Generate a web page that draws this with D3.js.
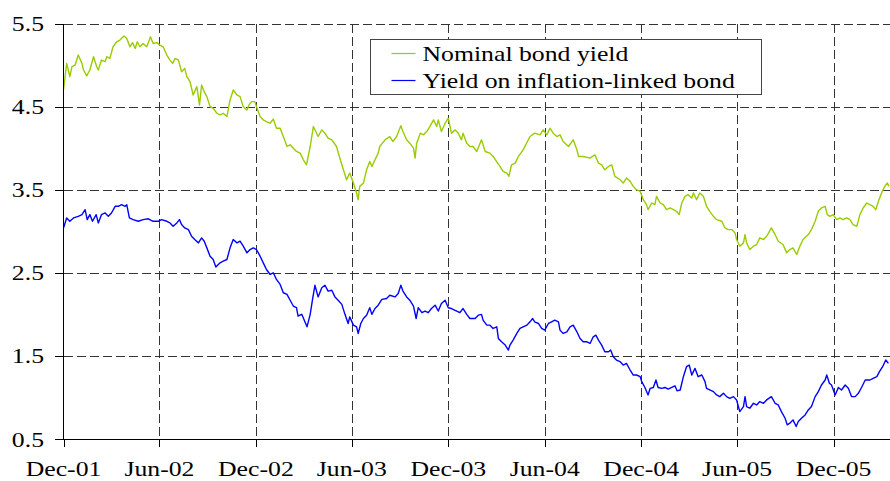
<!DOCTYPE html>
<html>
<head>
<meta charset="utf-8">
<script src="https://cdn.jsdelivr.net/npm/d3@7"></script>
<style>
  html, body { margin: 0; padding: 0; background: #fff; }
  svg { display: block; }
  text { font-family: "Liberation Serif", "Times New Roman", serif; fill: #000; }
</style>
</head>
<body>
<svg id="chart" width="890" height="481"></svg>
<script>
// ---- data (days since 1 Dec 2001, yield in %) ----
const seriesNames = ["Nominal bond yield", "Yield on inflation-linked bond"];
const yTicks = [0.5, 1.5, 2.5, 3.5, 4.5, 5.5];
const xTickLabels = ["Dec-01","Jun-02","Dec-02","Jun-03","Dec-03","Jun-04","Dec-04","Jun-05","Dec-05"];

const nominalDays = [0,6,12,16,22,28,35,38,44,50,57,63,66,72,79,82,88,94,101,107,115,120,126,131,136,140,145,151,158,165,170,177,183,189,196,202,207,212,218,224,230,234,240,246,253,258,262,267,272,278,284,291,297,303,310,316,322,329,335,341,348,352,357,363,366,373,379,385,392,398,404,411,417,424,430,436,442,449,455,461,468,474,483,490,496,502,509,518,521,531,537,543,550,556,559,562,569,572,575,581,585,591,597,600,610,619,625,632,640,644,651,657,664,667,670,677,683,689,695,702,708,711,717,724,730,736,743,749,755,758,765,771,777,784,793,800,809,815,828,834,841,845,850,857,863,872,885,894,904,910,917,923,929,936,942,948,958,967,974,977,986,999,1008,1015,1021,1027,1034,1040,1046,1056,1062,1068,1075,1081,1087,1094,1100,1106,1109,1116,1122,1125,1132,1138,1144,1151,1157,1163,1168,1173,1179,1185,1192,1195,1201,1207,1214,1220,1226,1233,1239,1249,1255,1261,1268,1274,1277,1283,1290,1293,1296,1302,1309,1315,1321,1328,1334,1343,1350,1356,1365,1372,1378,1384,1391,1397,1403,1413,1419,1426,1432,1438,1445,1449,1454,1460,1467,1473,1479,1486,1492,1498,1505,1511,1517,1524,1530,1536,1541,1546,1552,1558,1563,1566];
const nominalYield = [4.70,5.02,4.86,4.98,5.00,5.12,5.02,4.94,4.87,4.94,5.10,4.98,4.94,5.06,5.04,5.10,5.08,5.22,5.28,5.30,5.35,5.32,5.22,5.27,5.20,5.28,5.22,5.26,5.22,5.34,5.26,5.27,5.24,5.22,5.12,5.06,5.02,5.08,5.06,4.92,4.96,4.86,4.80,4.64,4.74,4.52,4.76,4.68,4.62,4.50,4.48,4.42,4.40,4.42,4.38,4.58,4.70,4.64,4.62,4.50,4.46,4.52,4.56,4.56,4.50,4.38,4.34,4.32,4.30,4.35,4.24,4.24,4.14,4.02,4.04,4.00,3.96,3.94,3.86,3.80,4.02,4.26,4.14,4.22,4.18,4.12,4.10,4.02,3.95,3.74,3.62,3.70,3.58,3.46,3.38,3.54,3.58,3.66,3.74,3.84,3.78,3.86,3.94,4.02,4.10,4.14,4.08,4.14,4.27,4.20,4.10,4.06,4.00,3.88,4.06,4.18,4.16,4.20,4.26,4.34,4.26,4.34,4.20,4.30,4.36,4.18,4.22,4.18,4.10,4.18,4.06,4.02,4.02,3.96,4.10,3.96,3.94,3.90,3.78,3.72,3.70,3.66,3.80,3.82,3.90,3.98,4.14,4.18,4.16,4.22,4.16,4.24,4.18,4.14,4.16,4.08,4.02,4.10,3.98,3.90,3.90,3.88,3.92,3.82,3.80,3.74,3.78,3.80,3.66,3.62,3.58,3.64,3.60,3.54,3.50,3.48,3.38,3.32,3.26,3.34,3.32,3.42,3.34,3.32,3.26,3.28,3.26,3.24,3.20,3.34,3.42,3.44,3.40,3.46,3.38,3.46,3.42,3.30,3.24,3.18,3.14,3.12,3.04,3.02,3.02,2.98,2.90,2.82,2.86,2.96,2.86,2.78,2.82,2.84,2.92,2.90,2.94,3.04,2.96,2.88,2.84,2.74,2.78,2.80,2.72,2.82,2.90,2.96,3.02,3.12,3.24,3.28,3.30,3.20,3.18,3.20,3.14,3.16,3.14,3.16,3.14,3.08,3.06,3.20,3.28,3.34,3.32,3.30,3.26,3.36,3.46,3.54,3.58,3.54];

const linkerDays = [0,6,12,19,28,35,41,45,50,55,62,66,72,79,85,91,98,104,110,117,120,125,132,142,151,161,170,180,186,196,202,208,215,220,224,230,237,243,249,256,262,267,272,278,284,289,297,303,310,316,322,329,335,341,348,354,360,366,373,379,385,392,398,404,411,417,424,430,436,442,445,452,458,462,468,473,477,483,490,496,502,509,515,521,528,534,540,543,550,556,559,564,569,575,581,585,591,597,604,613,619,629,635,640,644,651,657,664,669,673,680,686,692,698,705,711,717,724,730,736,746,752,758,765,771,781,787,793,796,803,809,815,822,825,831,838,844,847,853,860,866,872,879,885,890,894,901,907,913,920,926,932,939,942,948,955,961,967,974,980,986,993,999,1005,1010,1015,1021,1027,1034,1038,1043,1049,1056,1062,1068,1075,1081,1087,1094,1097,1103,1109,1113,1119,1124,1128,1135,1141,1147,1154,1160,1164,1170,1176,1182,1187,1192,1198,1204,1211,1217,1220,1226,1233,1239,1245,1252,1258,1264,1271,1277,1283,1290,1293,1296,1302,1309,1315,1321,1328,1334,1343,1350,1356,1362,1369,1373,1378,1384,1390,1394,1400,1407,1413,1419,1426,1432,1438,1445,1448,1453,1457,1464,1470,1476,1483,1489,1495,1502,1508,1514,1521,1530,1536,1543,1548,1554,1560,1565];
const linkerYield = [3.04,3.16,3.12,3.16,3.18,3.20,3.26,3.14,3.20,3.12,3.20,3.10,3.20,3.22,3.18,3.22,3.30,3.30,3.32,3.30,3.32,3.16,3.14,3.12,3.14,3.15,3.12,3.12,3.14,3.12,3.10,3.06,3.10,3.14,3.08,3.04,3.02,2.94,2.90,2.86,2.92,2.88,2.80,2.70,2.66,2.57,2.62,2.64,2.66,2.80,2.90,2.86,2.88,2.82,2.74,2.78,2.80,2.78,2.70,2.62,2.54,2.48,2.50,2.42,2.36,2.26,2.24,2.17,2.10,2.08,1.98,2.00,1.91,1.85,2.00,2.20,2.35,2.21,2.32,2.35,2.28,2.29,2.21,2.17,2.12,2.00,1.89,1.97,1.87,1.85,1.77,1.89,1.95,1.99,2.08,2.00,2.07,2.11,2.18,2.19,2.23,2.21,2.25,2.35,2.28,2.21,2.17,2.10,1.95,2.08,2.02,2.04,2.02,2.07,2.11,2.04,2.13,2.17,2.08,2.07,2.04,2.02,2.07,2.00,1.95,1.95,1.99,2.00,1.93,1.87,1.87,1.83,1.85,1.71,1.67,1.63,1.57,1.63,1.69,1.77,1.83,1.85,1.87,1.91,1.95,1.91,1.89,1.83,1.81,1.89,1.91,1.93,1.91,1.81,1.77,1.79,1.85,1.87,1.79,1.71,1.67,1.67,1.65,1.73,1.75,1.69,1.63,1.55,1.55,1.57,1.49,1.45,1.43,1.39,1.41,1.33,1.27,1.27,1.25,1.19,1.12,1.03,1.11,1.12,1.21,1.12,1.11,1.12,1.10,1.12,1.14,1.08,1.09,1.25,1.37,1.39,1.27,1.35,1.25,1.27,1.19,1.11,1.09,1.07,1.03,1.01,1.05,1.01,0.99,1.01,0.97,0.83,0.89,1.01,0.89,0.87,0.93,0.91,0.95,0.93,0.97,1.01,0.93,0.91,0.83,0.75,0.67,0.69,0.73,0.65,0.71,0.75,0.79,0.85,0.89,1.01,1.07,1.15,1.21,1.27,1.17,1.15,1.03,1.12,1.09,1.15,1.11,1.01,1.01,1.05,1.12,1.21,1.21,1.23,1.25,1.31,1.37,1.45,1.41];

const seriesColors = ["#99cc00", "#0000ff"];

// ---- layout ----
const svg = d3.select("#chart");
const plotL = 63.5, plotR = 890, plotT = 23.5, plotB = 439;
const startDate = new Date(2001, 11, 1);
const endDate = new Date(2006, 2, 18);
const x = d3.scaleTime().domain([startDate, endDate]).range([plotL, plotR]);
const y = d3.scaleLinear().domain([0.5, 5.5]).range([plotB, plotT]);
const tickDates = xTickLabels.map((_, i) => d3.timeMonth.offset(startDate, 6 * i));
const FS = 22, SX = 1.17;

// gridlines
const grid = svg.append("g").attr("stroke", "#333").attr("stroke-width", 1)
  .attr("stroke-dasharray", "9,4").attr("shape-rendering", "crispEdges");
grid.selectAll("line.h").data(yTicks.slice(1)).join("line")
  .attr("x1", plotL).attr("x2", plotR)
  .attr("y1", d => Math.round(y(d)) + 0.5).attr("y2", d => Math.round(y(d)) + 0.5);
grid.selectAll("line.v").data(tickDates.slice(1)).join("line")
  .attr("y1", plotT).attr("y2", plotB)
  .attr("x1", d => Math.round(x(d)) + 0.5).attr("x2", d => Math.round(x(d)) + 0.5);

// lines
const mk = (days, vals) => d3.range(Math.min(days.length, vals.length))
  .map(i => ({ date: d3.timeDay.offset(startDate, days[i]), v: vals[i] }));
const series = [mk(nominalDays, nominalYield), mk(linkerDays, linkerYield)];
const line = d3.line().x(d => x(d.date)).y(d => y(d.v));
svg.append("g").selectAll("path").data(series).join("path")
  .attr("d", line).attr("fill", "none")
  .attr("stroke", (d, i) => seriesColors[i]).attr("stroke-width", 1.4)
  .attr("stroke-linejoin", "round");

// axes
const ax = svg.append("g").attr("stroke", "#000").attr("stroke-width", 1).attr("shape-rendering", "crispEdges");
ax.append("line").attr("x1", 63.5).attr("x2", 63.5).attr("y1", plotT).attr("y2", plotB + 0.5);
ax.append("line").attr("x1", 63.5).attr("x2", plotR).attr("y1", plotB + 0.5).attr("y2", plotB + 0.5);
ax.selectAll("line.yt").data(yTicks).join("line")
  .attr("x1", 55).attr("x2", 63.5)
  .attr("y1", d => Math.round(y(d)) + 0.5).attr("y2", d => Math.round(y(d)) + 0.5);
ax.selectAll("line.xt").data(tickDates).join("line")
  .attr("y1", plotB + 0.5).attr("y2", plotB + 7.5)
  .attr("x1", d => Math.round(x(d)) + 0.5).attr("x2", d => Math.round(x(d)) + 0.5);

// y labels
svg.append("g").selectAll("text").data(yTicks).join("text")
  .attr("transform", d => `translate(44,${y(d) + 7.5}) scale(${SX},1)`)
  .attr("text-anchor", "end").attr("font-size", FS)
  .text(d => d3.format(".1f")(d));

// x labels
svg.append("g").selectAll("text").data(tickDates).join("text")
  .attr("transform", d => `translate(${x(d)},476) scale(${SX},1)`)
  .attr("text-anchor", "middle").attr("font-size", FS)
  .text((d, i) => xTickLabels[i]);

// legend
const lg = svg.append("g");
lg.append("rect").attr("x", 370.5).attr("y", 39.5).attr("width", 391).attr("height", 55)
  .attr("fill", "#fff").attr("stroke", "#444").attr("stroke-width", 1);
seriesNames.forEach((name, i) => {
  const yy = 53.5 + i * 27;
  lg.append("line").attr("x1", 391.5).attr("x2", 415.5).attr("y1", yy).attr("y2", yy)
    .attr("stroke", seriesColors[i]).attr("stroke-width", 1.2);
  lg.append("text").attr("transform", `translate(422.5,${61 + i * 27}) scale(${SX},1)`)
    .attr("font-size", FS).text(name);
});
</script>
</body>
</html>
